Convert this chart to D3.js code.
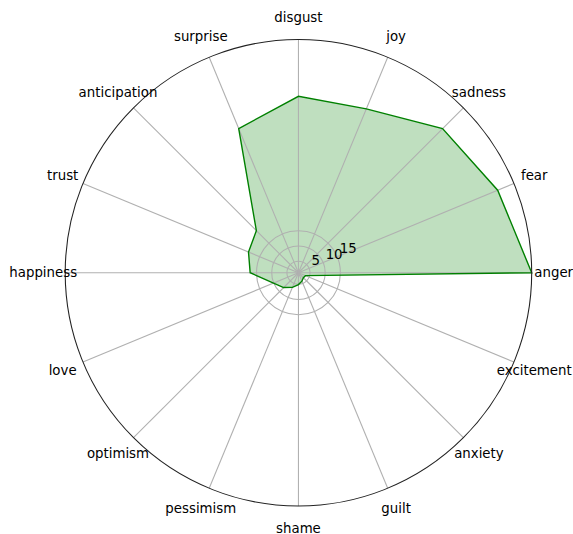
<!DOCTYPE html>
<html>
<head>
<meta charset="utf-8">
<script src="https://cdn.jsdelivr.net/npm/d3@7"></script>
<style>
  html, body { margin: 0; padding: 0; background: #fff; }
  svg { display: block; }
  text { font-family: "DejaVu Sans", sans-serif; }
</style>
</head>
<body>
<svg id="chart" width="573" height="534"></svg>
<script>
const categories = ["anger", "fear", "sadness", "joy", "disgust", "surprise", "anticipation", "trust",
  "happiness", "love", "optimism", "pessimism", "shame", "guilt", "anxiety", "excitement"];
const values = [78, 72.2, 68.3, 59.6, 59.3, 52.6, 20.8, 19.0, 17.1, 10.1, 8.1, 6.4, 5.1, 4.2, 3.5, 3.7];
const radialTicks = [5, 10, 15];
const radialTickLabels = ["5", "10", "15"];
const rDomain = [1.2, 78];

const cx = 298.45, cy = 272.75, R = 233.25;
const svg = d3.select("#chart");
const g = svg.append("g").attr("transform", `translate(${cx},${cy})`);

const r = d3.scaleLinear().domain(rDomain).range([0, R]);
// math angle (counter-clockwise from east)
const theta = d3.scaleLinear().domain([0, categories.length]).range([0, 2 * Math.PI]);
const d3angle = i => Math.PI / 2 - theta(i);

// fill
const radial = d3.lineRadial()
  .angle((d, i) => d3angle(i))
  .radius(d => r(d))
  .curve(d3.curveLinearClosed);

g.append("path")
  .attr("d", radial(values))
  .attr("fill", "#008000")
  .attr("fill-opacity", 0.25)
  .attr("stroke", "none");

// grid circles
g.selectAll("circle.grid").data(radialTicks).join("circle")
  .attr("class", "grid")
  .attr("r", d => r(d))
  .attr("fill", "none")
  .attr("stroke", "#b0b0b0")
  .attr("stroke-width", 1.07);

// spokes
g.selectAll("line.spoke").data(categories).join("line")
  .attr("class", "spoke")
  .attr("x1", 0).attr("y1", 0)
  .attr("x2", (d, i) => R * Math.cos(theta(i)))
  .attr("y2", (d, i) => -R * Math.sin(theta(i)))
  .attr("stroke", "#b0b0b0")
  .attr("stroke-width", 1.07);

// data line
g.append("path")
  .attr("d", radial(values))
  .attr("fill", "none")
  .attr("stroke", "#008000")
  .attr("stroke-width", 1.4)
  .attr("stroke-linejoin", "miter");

// frame
g.append("circle")
  .attr("r", R)
  .attr("fill", "none")
  .attr("stroke", "#222")
  .attr("stroke-width", 1.07);

// radial tick labels at 22.5 degrees
const la = 22.5 * Math.PI / 180;
g.selectAll("text.rtick").data(radialTicks).join("text")
  .attr("class", "rtick")
  .attr("x", d => r(d) * Math.cos(la) + 2.5)
  .attr("y", d => -r(d) * Math.sin(la) - 3.5)
  .attr("font-size", "13.33px")
  .attr("fill", "#000")
  .text((d, i) => radialTickLabels[i]);

// category labels
const pad = 22;
g.selectAll("text.cat").data(categories).join("text")
  .attr("class", "cat")
  .attr("x", (d, i) => (R + pad) * Math.cos(theta(i)))
  .attr("y", (d, i) => -(R + pad) * Math.sin(theta(i)))
  .attr("text-anchor", "middle")
  .attr("dominant-baseline", "central")
  .attr("font-size", "13.33px")
  .attr("fill", "#000")
  .text(d => d);
</script>
</body>
</html>
